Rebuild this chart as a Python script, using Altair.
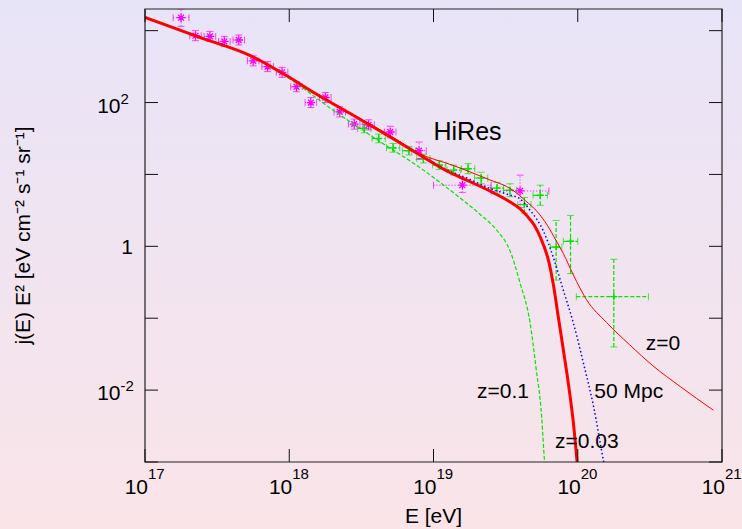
import altair as alt
import numpy as np
import pandas as pd

W, H = 577, 453
FONT = "Liberation Sans"
BG_TOP, BG_BOTTOM = "#E8E4F8", "#FAE4E8"
GREEN, BLUE, RED, MAGENTA = "#00E400", "#0000FF", "#FF0000", "#FF00FF"

# ---- propagated spectra, log10(E/eV) vs log10(j E^2) ----
z0_logE = [17.0, 17.38, 17.73, 17.98, 18.19, 18.42, 18.7, 18.906, 19.137, 19.37, 19.55,
           19.64, 19.72, 19.79, 19.85, 19.90, 19.97, 20.06, 20.2, 20.36, 20.52, 20.71, 20.94]
z0_logJ = [3.185, 2.907, 2.653, 2.375, 2.115, 1.855, 1.54, 1.287, 1.125, 0.94, 0.78,
           0.63, 0.48, 0.29, 0.08, -0.10, -0.40, -0.74, -1.06, -1.37, -1.66, -1.95, -2.28]

z003_logE = [17.0, 17.38, 17.73, 17.98, 18.19, 18.42, 18.7, 18.93, 19.11, 19.23, 19.41, 19.52,
             19.6, 19.65, 19.70, 19.74, 19.8, 19.83, 19.865, 19.9, 19.935, 19.97, 20.0]
z003_logJ = [3.185, 2.907, 2.653, 2.375, 2.115, 1.85, 1.52, 1.24, 1.03, 0.92, 0.75, 0.63,
             0.52, 0.42, 0.29, 0.13, -0.22, -0.52, -0.98, -1.44, -1.91, -2.46, -3.1]

d50_logE = [17.0, 17.38, 17.73, 17.98, 18.19, 18.42, 18.7, 18.93, 19.11, 19.23, 19.41, 19.52,
            19.6, 19.67, 19.76, 19.83, 19.90, 19.97, 20.04, 20.11, 20.18, 20.2]
d50_logJ = [3.185, 2.907, 2.653, 2.375, 2.115, 1.85, 1.53, 1.25, 1.05, 0.95, 0.79, 0.72,
            0.66, 0.50, 0.22, -0.15, -0.61, -1.07, -1.63, -2.23, -3.0, -3.2]

z01_logE = [17.0, 17.38, 17.73, 17.98, 18.3, 18.58, 18.93, 19.09, 19.23, 19.32, 19.44, 19.53,
            19.6, 19.67, 19.71, 19.75, 19.77, 19.78]
z01_logJ = [3.19, 2.91, 2.65, 2.36, 1.90, 1.52, 1.06, 0.82, 0.60, 0.45, 0.22, -0.06,
            -0.51, -1.07, -1.68, -2.37, -3.0, -3.2]

# ---- HiRes monocular (stars) ----
hr_logE = [17.25, 17.35, 17.45, 17.55, 17.65, 17.75, 17.85, 17.95, 18.05, 18.15, 18.25,
           18.35, 18.45, 18.55, 18.70, 18.90, 19.20, 19.60]
hr_logJ = [3.18, 2.93, 2.92, 2.85, 2.87, 2.58, 2.50, 2.42, 2.22, 2.00, 2.07,
           1.87, 1.70, 1.69, 1.59, 1.33, 0.85, 0.77]
hr_dlogE = [0.055, 0.04, 0.04, 0.04, 0.04, 0.04, 0.04, 0.04, 0.04, 0.04, 0.04,
            0.04, 0.04, 0.04, 0.04, 0.05, 0.20, 0.20]
hr_dlogJ_lo = [0.12, 0.07, 0.07, 0.07, 0.07, 0.07, 0.07, 0.07, 0.07, 0.07, 0.07,
               0.07, 0.07, 0.07, 0.08, 0.12, 0.10, 0.23]
hr_dlogJ_hi = [0.12, 0.07, 0.07, 0.07, 0.07, 0.07, 0.07, 0.07, 0.07, 0.07, 0.07,
               0.07, 0.07, 0.07, 0.08, 0.12, 0.10, 0.22]

# ---- HiRes (crosses) ----
st_logE = [18.52, 18.62, 18.72, 18.83, 18.93, 19.04, 19.14, 19.24, 19.33, 19.44, 19.53,
           19.63, 19.74, 19.85, 19.95, 20.25]
st_logJ = [1.64, 1.50, 1.37, 1.33, 1.22, 1.13, 1.06, 1.08, 0.95, 0.81, 0.78,
           0.58, 0.71, -0.01, 0.07, -0.70]
st_dlogE_lo = [0.046] * 12 + [0.05, 0.04, 0.05, 0.26]
st_dlogE_hi = [0.046] * 12 + [0.05, 0.04, 0.05, 0.24]
st_dlogJ_lo = [0.06, 0.06, 0.06, 0.06, 0.06, 0.06, 0.07, 0.07, 0.08, 0.08, 0.09,
               0.12, 0.14, 0.46, 0.45, 0.70]
st_dlogJ_hi = [0.06, 0.06, 0.06, 0.06, 0.06, 0.06, 0.07, 0.07, 0.08, 0.08, 0.09,
               0.10, 0.14, 0.37, 0.36, 0.52]

# ---- annotations ----
ann_text = ["HiRes", "z=0", "50 Mpc", "z=0.1", "z=0.03"]
ann_logE = [19.0, 20.471, 20.115, 19.302, 19.842]
ann_logJ = [1.472, -1.444, -2.111, -2.111, -2.806]
ann_size = [25, 21, 21, 21, 21]

# ---- axes ----
x_tick_exp = [17, 18, 19, 20, 21]
y_tick_exp = [-3, -2, -1, 0, 1, 2, 3]
y_label_exp = [2, -2]

x_title = "E [eV]"
y_title = "j(E) E\u00b2 [eV cm\u207b\u00b2 s\u207b\u00b9 sr\u207b\u00b9]"

xs = alt.Scale(type="log", domain=[1e17, 1e21])
ys = alt.Scale(type="log", domain=[1e-3, 2e3])


def X(field):
    return alt.X(field, type="quantitative", scale=xs, axis=None)


def Y(field):
    return alt.Y(field, type="quantitative", scale=ys, axis=None)


def curve(logE, logJ):
    return pd.DataFrame({"E": np.power(10.0, logE), "J": np.power(10.0, logJ)})


def points(logE, logJ, dElo, dEhi, dJlo, dJhi):
    logE, logJ = np.array(logE), np.array(logJ)
    return pd.DataFrame({
        "E": 10.0 ** logE, "J": 10.0 ** logJ,
        "Elo": 10.0 ** (logE - np.array(dElo)), "Ehi": 10.0 ** (logE + np.array(dEhi)),
        "Jlo": 10.0 ** (logJ - np.array(dJlo)), "Jhi": 10.0 ** (logJ + np.array(dJhi)),
    })


hr = points(hr_logE, hr_logJ, hr_dlogE, hr_dlogE, hr_dlogJ_lo, hr_dlogJ_hi)
st = points(st_logE, st_logJ, st_dlogE_lo, st_dlogE_hi, st_dlogJ_lo, st_dlogJ_hi)

one = pd.DataFrame({"k": [0]})

background = alt.Chart(one).mark_rect(
    fill=alt.Gradient(gradient="linear",
                      stops=[alt.GradientStop(color=BG_TOP, offset=0),
                             alt.GradientStop(color=BG_BOTTOM, offset=1)],
                      x1=0, x2=0, y1=0, y2=1)
).encode(x=alt.value(-145), x2=alt.value(W + 20), y=alt.value(-9), y2=alt.value(H + 67))

frame = alt.Chart(one).mark_rect(filled=False, stroke="#222222", strokeWidth=1.2).encode(
    x=alt.value(0), x2=alt.value(W), y=alt.value(0), y2=alt.value(H))

xt = pd.DataFrame({"E": 10.0 ** np.array(x_tick_exp, dtype=float), "exp": [str(e) for e in x_tick_exp]})
yt = pd.DataFrame({"J": 10.0 ** np.array(y_tick_exp, dtype=float)})
yl = pd.DataFrame({"J": 10.0 ** np.array(y_label_exp, dtype=float), "exp": [str(e) for e in y_label_exp]})

TICK = 13
tick_rule = dict(color="#111111", strokeWidth=1)
ticks = [
    alt.Chart(xt).mark_rule(**tick_rule).encode(x=X("E"), y=alt.value(H), y2=alt.value(H - TICK)),
    alt.Chart(xt).mark_rule(**tick_rule).encode(x=X("E"), y=alt.value(0), y2=alt.value(TICK)),
    alt.Chart(yt).mark_rule(**tick_rule).encode(y=Y("J"), x=alt.value(0), x2=alt.value(TICK)),
    alt.Chart(yt).mark_rule(**tick_rule).encode(y=Y("J"), x=alt.value(W), x2=alt.value(W - TICK)),
]

tick_labels = [
    alt.Chart(xt).mark_text(text="10", fontSize=21, align="right", baseline="alphabetic", dx=3)
    .encode(x=X("E"), y=alt.value(485)),
    alt.Chart(xt).mark_text(fontSize=15, align="left", baseline="alphabetic", dx=3)
    .encode(x=X("E"), y=alt.value(470), text="exp:N"),
    alt.Chart(yl).mark_text(text="10", fontSize=21, align="right", baseline="alphabetic", dy=10)
    .encode(y=Y("J"), x=alt.value(-24.5)),
    alt.Chart(yl).mark_text(fontSize=15, align="left", baseline="alphabetic", dy=1)
    .encode(y=Y("J"), x=alt.value(-24.5), text="exp:N"),
    alt.Chart(pd.DataFrame({"J": [1.0]})).mark_text(text="1", fontSize=21, align="right",
                                                    baseline="alphabetic", dy=8)
    .encode(y=Y("J"), x=alt.value(-12)),
]

titles = [
    alt.Chart(one).mark_text(text=x_title, fontSize=21, align="center", baseline="alphabetic")
    .encode(x=alt.value(W / 2), y=alt.value(514)),
    alt.Chart(one).mark_text(text=y_title, fontSize=21, align="center", baseline="alphabetic", angle=270)
    .encode(x=alt.value(-115), y=alt.value(H / 2)),
]


# error bars with end caps
def errorbars(df, color, dash, width):
    base = alt.Chart(df)
    return [
        base.mark_rule(color=color, strokeDash=dash, strokeWidth=width, clip=True)
        .encode(x=X("E"), y=Y("Jlo"), y2="Jhi"),
        base.mark_rule(color=color, strokeDash=dash, strokeWidth=width, clip=True)
        .encode(x=X("Elo"), x2="Ehi", y=Y("J")),
        base.mark_tick(color=color, orient="horizontal", size=7, thickness=1, clip=True)
        .encode(x=X("E"), y=Y("Jlo")),
        base.mark_tick(color=color, orient="horizontal", size=7, thickness=1, clip=True)
        .encode(x=X("E"), y=Y("Jhi")),
        base.mark_tick(color=color, orient="vertical", size=7, thickness=1, clip=True)
        .encode(x=X("Elo"), y=Y("J")),
        base.mark_tick(color=color, orient="vertical", size=7, thickness=1, clip=True)
        .encode(x=X("Ehi"), y=Y("J")),
    ]


ASTERISK = "M-1,0L1,0M0,-1L0,1M-0.7,-0.7L0.7,0.7M-0.7,0.7L0.7,-0.7"
PLUS = "M-1,0L1,0M0,-1L0,1"

hr_layers = errorbars(hr, MAGENTA, [1, 2], 1) + [
    alt.Chart(hr).mark_point(shape=ASTERISK, filled=False, color=MAGENTA, strokeWidth=1.3,
                             size=70, opacity=1, clip=True)
    .encode(x=X("E"), y=Y("J"))
]
st_layers = errorbars(st, GREEN, [4, 2], 1.2) + [
    alt.Chart(st).mark_point(shape=PLUS, filled=False, color=GREEN, strokeWidth=1.4,
                             size=50, opacity=1, clip=True)
    .encode(x=X("E"), y=Y("J"))
]

curves = [
    alt.Chart(curve(z01_logE, z01_logJ)).mark_line(color=GREEN, strokeWidth=1.2,
                                                   strokeDash=[4, 2], clip=True, interpolate="monotone")
    .encode(x=X("E"), y=Y("J")),
    alt.Chart(curve(d50_logE, d50_logJ)).mark_line(color=BLUE, strokeWidth=1.5,
                                                   strokeDash=[1.5, 2.5], clip=True, interpolate="monotone")
    .encode(x=X("E"), y=Y("J")),
    alt.Chart(curve(z0_logE, z0_logJ)).mark_line(color=RED, strokeWidth=1, clip=True,
                                                 interpolate="monotone")
    .encode(x=X("E"), y=Y("J")),
    alt.Chart(curve(z003_logE, z003_logJ)).mark_line(color=RED, strokeWidth=3, clip=True,
                                                     interpolate="monotone")
    .encode(x=X("E"), y=Y("J")),
]

ann = pd.DataFrame({"text": ann_text, "E": np.power(10.0, ann_logE),
                    "J": np.power(10.0, ann_logJ), "size": ann_size})
annotations = alt.Chart(ann).mark_text(align="left", baseline="alphabetic", color="black").encode(
    x=X("E"), y=Y("J"), text="text:N", size=alt.Size("size:Q", scale=None, legend=None))

chart = alt.layer(
    background, *st_layers, *hr_layers, *curves, annotations, frame, *ticks, *tick_labels, *titles
).properties(
    width=W, height=H,
    padding={"left": 145, "top": 9, "right": 20, "bottom": 67},
    autosize=alt.AutoSizeParams(type="none"),
    background=BG_BOTTOM,
).configure_view(strokeOpacity=0).configure_text(font=FONT, color="black")

chart.save("out.html", embed_options={"renderer": "svg", "actions": False})
